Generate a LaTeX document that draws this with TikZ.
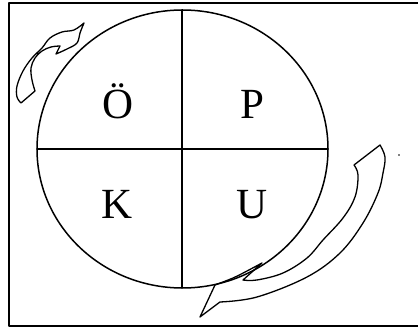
\documentclass[tikz,border=0pt]{standalone}
\usepackage{fontspec}
\setmainfont{Liberation Serif}
\begin{document}
\begin{tikzpicture}[x=1pt,y=-1pt,
  ln/.style={line width=1.5pt,line join=round,line cap=round},
  arr/.style={line width=1.3pt,line join=round,line cap=round},
  letter/.style={anchor=base,inner sep=0pt,font=\fontsize{43}{50}\selectfont}]
\useasboundingbox (0,0) rectangle (418,328);
% frame (open on the right)
\coordinate (ftr) at (418,3);
\coordinate (ftl) at (9,3);
\coordinate (fbl) at (9,326);
\coordinate (fbr) at (418,326);
\draw[ln] (ftr) -- (ftl) -- (fbl) -- (fbr);
% circle
\coordinate (c) at (182.5,149);
\draw[ln] (c) ellipse [x radius=145.5, y radius=139];
\coordinate (top) at (182,10);
\coordinate (bot) at (182,288);
\coordinate (lft) at (37,149);
\coordinate (rgt) at (328,149);
\draw[ln] (top) -- (bot);
\draw[ln] (lft) -- (rgt);
% letters
\node[letter] (o) at (118,119) {Ö};
\node[letter] (p) at (252,119) {P};
\node[letter] (k) at (117,219) {K};
\node[letter] (u) at (252,219) {U};
% upper-left swoosh arrow
\draw[arr] plot[smooth,tension=0.6] coordinates {(84,23) (74,30) (62,32) (50,38) (42,48) (32,58) (23,71) (17,86) (17,97) (21,103)}
  -- plot[smooth,tension=0.6] coordinates {(35,91) (32,80) (31,68) (35,58) (42,51) (51,47) (60,46)}
  -- plot[smooth,tension=0.6] coordinates {(56,54) (67,49) (77,43) (80,33) (84,23)} -- cycle;
% lower-right swoosh arrow
\draw[arr] (200,317) -- plot[smooth,tension=0.6] coordinates {(215,285) (233,278) (247,271) (262,263)}
  -- plot[smooth,tension=0.6] coordinates {(243,280) (257,280) (283,273) (307,258) (323,240) (343,218) (355,197) (358,175) (354,165)}
  -- plot[smooth,tension=0.6] coordinates {(380,145) (385,157) (383,173) (378,193) (363,223) (340,253) (307,277) (257,297) (220,302)}
  -- cycle;
% speck
\fill (399,155) circle (0.8);
\end{tikzpicture}
\end{document}
